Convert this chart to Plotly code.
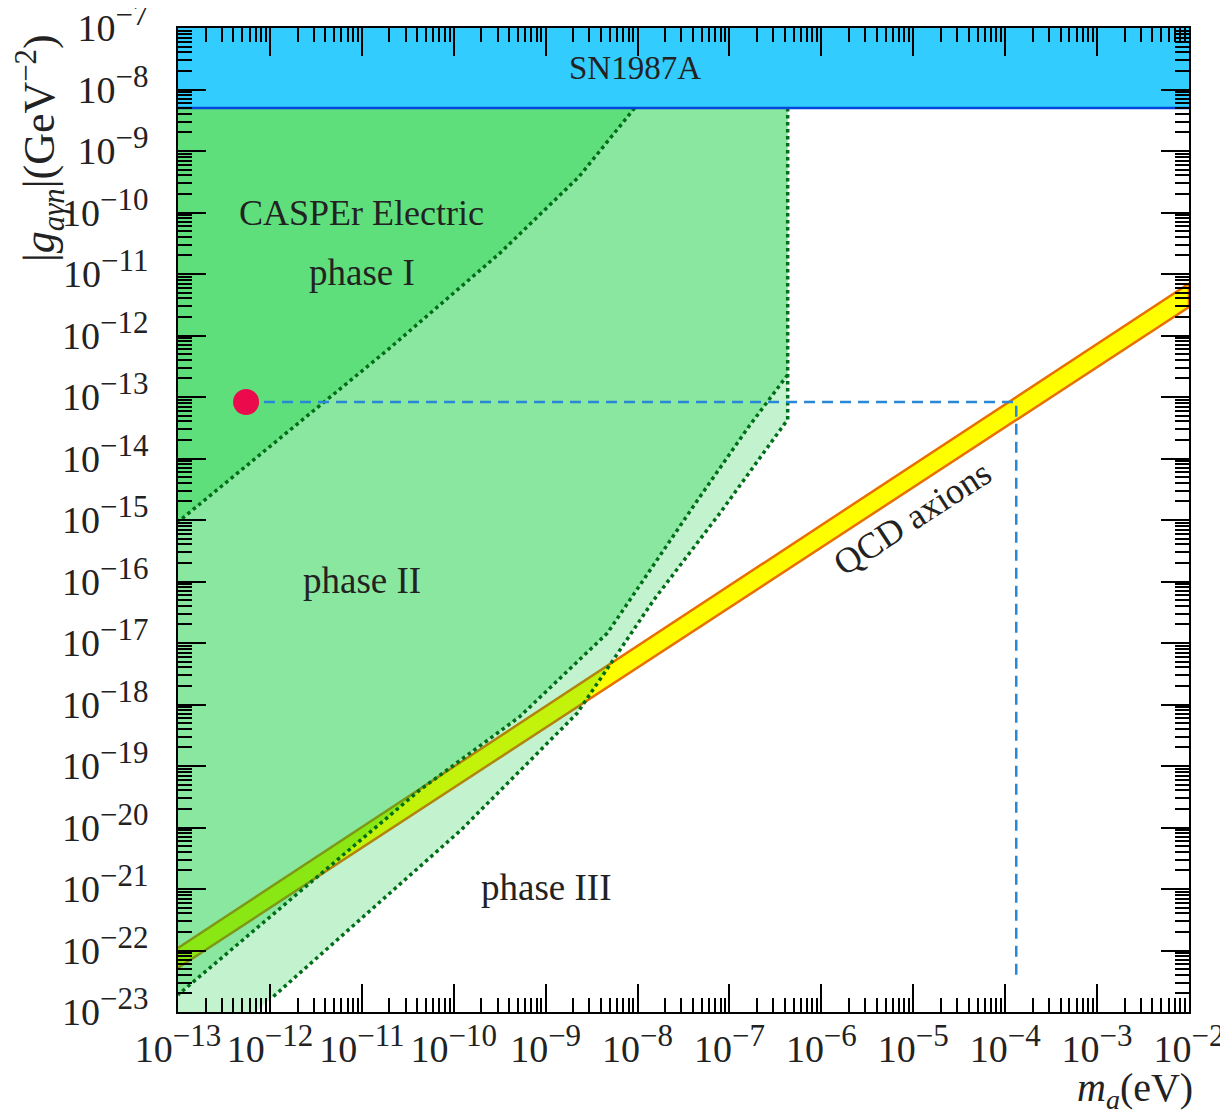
import math
import plotly.graph_objects as go

# ---------------- data ----------------
x_range_log = [-13, -2]
y_range_log = [-23, -7]

SUP = "<sup><span style='font-size:31px'>%s</span></sup>"
x_tick_vals = [10.0**e for e in range(-13, -1)]
x_tick_text = ["10" + SUP % ("−%d" % (-e)) for e in range(-13, -1)]
y_tick_vals = [10.0**e for e in range(-23, -6)]
y_tick_text = ["10" + SUP % ("−%d" % (-e)) for e in range(-23, -6)]
x_minor_vals = [k * 10.0**e for e in range(-13, -2) for k in range(2, 10)]
y_minor_vals = [k * 10.0**e for e in range(-23, -7) for k in range(2, 10)]

# SN1987A exclusion
sn_g_low = 5e-9
sn_g_high = 1e-7
m_min, m_max = 1e-13, 1e-2
g_min = 1e-23

# CASPEr Electric phase I boundary (from upper end downwards)
phase1_m = [9.3e-9, 2.3e-9, 3.2e-10, 4.3e-11, 1.9e-11, 1e-13]
phase1_g = [5e-9, 3.8e-10, 2.2e-11, 1.7e-12, 5.8e-13, 9.3e-16]

# phase II boundary
phase2_m = [4.3e-7, 4.3e-7, 1.6e-7, 4.5e-8, 4.7e-9, 5.2e-10, 4.3e-11, 1e-13]
phase2_g = [5e-9, 2.3e-13, 3.2e-14, 2.1e-15, 1.45e-17, 6.3e-19, 4.1e-20, 1.9e-23]

# phase III boundary
phase3_m = [4.3e-7, 4.3e-7, 7.9e-8, 1.5e-8, 2.2e-9, 4.5e-10, 1.2e-10, 1.05e-12]
phase3_g = [5e-9, 4.3e-14, 1.3e-15, 5e-17, 7.2e-19, 6.6e-20, 9.1e-21, 1.7e-23]

# QCD axion band
qcd_m = [1e-13, 1e-2]
qcd_g_upper = [1.1e-22, 7e-12]
qcd_g_lower = [5.2e-23, 2.9e-12]

# benchmark point and guide lines
point_m = 5.5e-13
point_g = 8.3e-14
guide_m = 1.32e-4
guide_g_end = 4e-23

# ---------------- figure ----------------
FONT = "Liberation Serif"
fig = go.Figure()

# QCD band
fig.add_trace(go.Scatter(
    x=qcd_m + qcd_m[::-1], y=qcd_g_upper + qcd_g_lower[::-1],
    fill="toself", fillcolor="rgb(255,255,0)", mode="lines",
    line=dict(color="rgb(232,112,0)", width=2.5), hoverinfo="skip", showlegend=False))

green = "rgba(0,205,45,%s)"
# phase III region
fig.add_trace(go.Scatter(
    x=[m_min] + phase3_m + [7e-13, m_min],
    y=[sn_g_low] + phase3_g + [g_min, g_min],
    fill="toself", fillcolor=green % 0.235, mode="none", hoverinfo="skip", showlegend=False))
# phase II region
fig.add_trace(go.Scatter(
    x=[m_min] + phase2_m,
    y=[sn_g_low] + phase2_g,
    fill="toself", fillcolor=green % 0.29, mode="none", hoverinfo="skip", showlegend=False))
# phase I region
fig.add_trace(go.Scatter(
    x=[m_min] + phase1_m,
    y=[sn_g_low] + phase1_g,
    fill="toself", fillcolor=green % 0.31, mode="none", hoverinfo="skip", showlegend=False))

dot_line = dict(color="rgb(0,110,25)", width=3.5, dash="dot")
for xs, ys in [(phase1_m, phase1_g), (phase2_m[1:], phase2_g[1:]), (phase3_m, phase3_g)]:
    fig.add_trace(go.Scatter(x=xs, y=ys, mode="lines", line=dot_line,
                             hoverinfo="skip", showlegend=False))

# SN1987A band
fig.add_trace(go.Scatter(
    x=[m_min, m_max, m_max, m_min], y=[sn_g_high, sn_g_high, sn_g_low, sn_g_low],
    fill="toself", fillcolor="rgb(51,204,255)", mode="none", hoverinfo="skip", showlegend=False))
fig.add_trace(go.Scatter(
    x=[m_min, m_max], y=[sn_g_low, sn_g_low], mode="lines",
    line=dict(color="rgb(0,70,220)", width=2.5), hoverinfo="skip", showlegend=False))

# guide lines
fig.add_trace(go.Scatter(
    x=[point_m, guide_m, guide_m], y=[point_g, point_g, guide_g_end], mode="lines",
    line=dict(color="rgb(40,135,215)", width=2.5, dash="11px,7px"), hoverinfo="skip", showlegend=False))
fig.add_trace(go.Scatter(
    x=[point_m], y=[point_g], mode="markers",
    marker=dict(color="rgb(235,10,75)", size=26, line=dict(width=0)),
    hoverinfo="skip", showlegend=False))

L = math.log10
def ann(text, x, y, size=36, angle=0):
    fig.add_annotation(text=text, x=L(x), y=L(y), xref="x", yref="y", showarrow=False,
                       xanchor="center", yanchor="middle",
                       textangle=angle, font=dict(family=FONT, size=size, color="#222"))

ann("SN1987A", 9.3e-9, 2.2e-8, size=33)
ann("CASPEr Electric", 1e-11, 1e-10, size=36)
ann("phase I", 1e-11, 1.07e-11, size=37)
ann("phase II", 1e-11, 1.05e-16, size=37)
ann("phase III", 1e-9, 1.07e-21, size=37)
ann("QCD axions", 9.8e-6, 1.07e-15, size=36, angle=-33)

fig.add_annotation(text="|<i>g</i><sub><i>aγn</i></sub>|(GeV<sup>−2</sup>)", xref="paper", yref="paper",
                   x=-0.1365, y=0.878, xanchor="center", yanchor="middle", textangle=-90, showarrow=False,
                   font=dict(family=FONT, size=44, color="#222"))
fig.add_annotation(text="<i>m</i><sub><i>a</i></sub>(eV)", xref="paper", yref="paper",
                   x=0.9466, y=-0.0793, xanchor="center", yanchor="middle", showarrow=False,
                   font=dict(family=FONT, size=40, color="#222"))

axis_common = dict(
    type="log", showgrid=False, zeroline=False, showline=True, linecolor="black", linewidth=2,
    mirror="allticks", ticks="inside", ticklen=28, tickwidth=2, tickcolor="black",
    tickfont=dict(family=FONT, size=38, color="#222"), automargin=False,
    ticklabeloverflow="allow",
)
fig.update_xaxes(range=x_range_log, tickvals=x_tick_vals, ticktext=x_tick_text,
                 minor=dict(tickvals=x_minor_vals, ticks="inside", ticklen=14, tickwidth=1.5,
                            tickcolor="black", showgrid=False),
                 ticklabelstandoff=2, **axis_common)
fig.update_yaxes(range=y_range_log, tickvals=y_tick_vals, ticktext=y_tick_text,
                 minor=dict(tickvals=y_minor_vals, ticks="inside", ticklen=14, tickwidth=1.5,
                            tickcolor="black", showgrid=False),
                 ticklabelstandoff=20, **axis_common)

# page body has an 8px margin, so the figure is sized to fit inside the window
fig.update_layout(
    width=1220, height=1109,
    margin=dict(l=170, r=39, t=20, b=105, autoexpand=False),
    paper_bgcolor="white", plot_bgcolor="white",
    showlegend=False,
)

fig.write_html("out.html")
